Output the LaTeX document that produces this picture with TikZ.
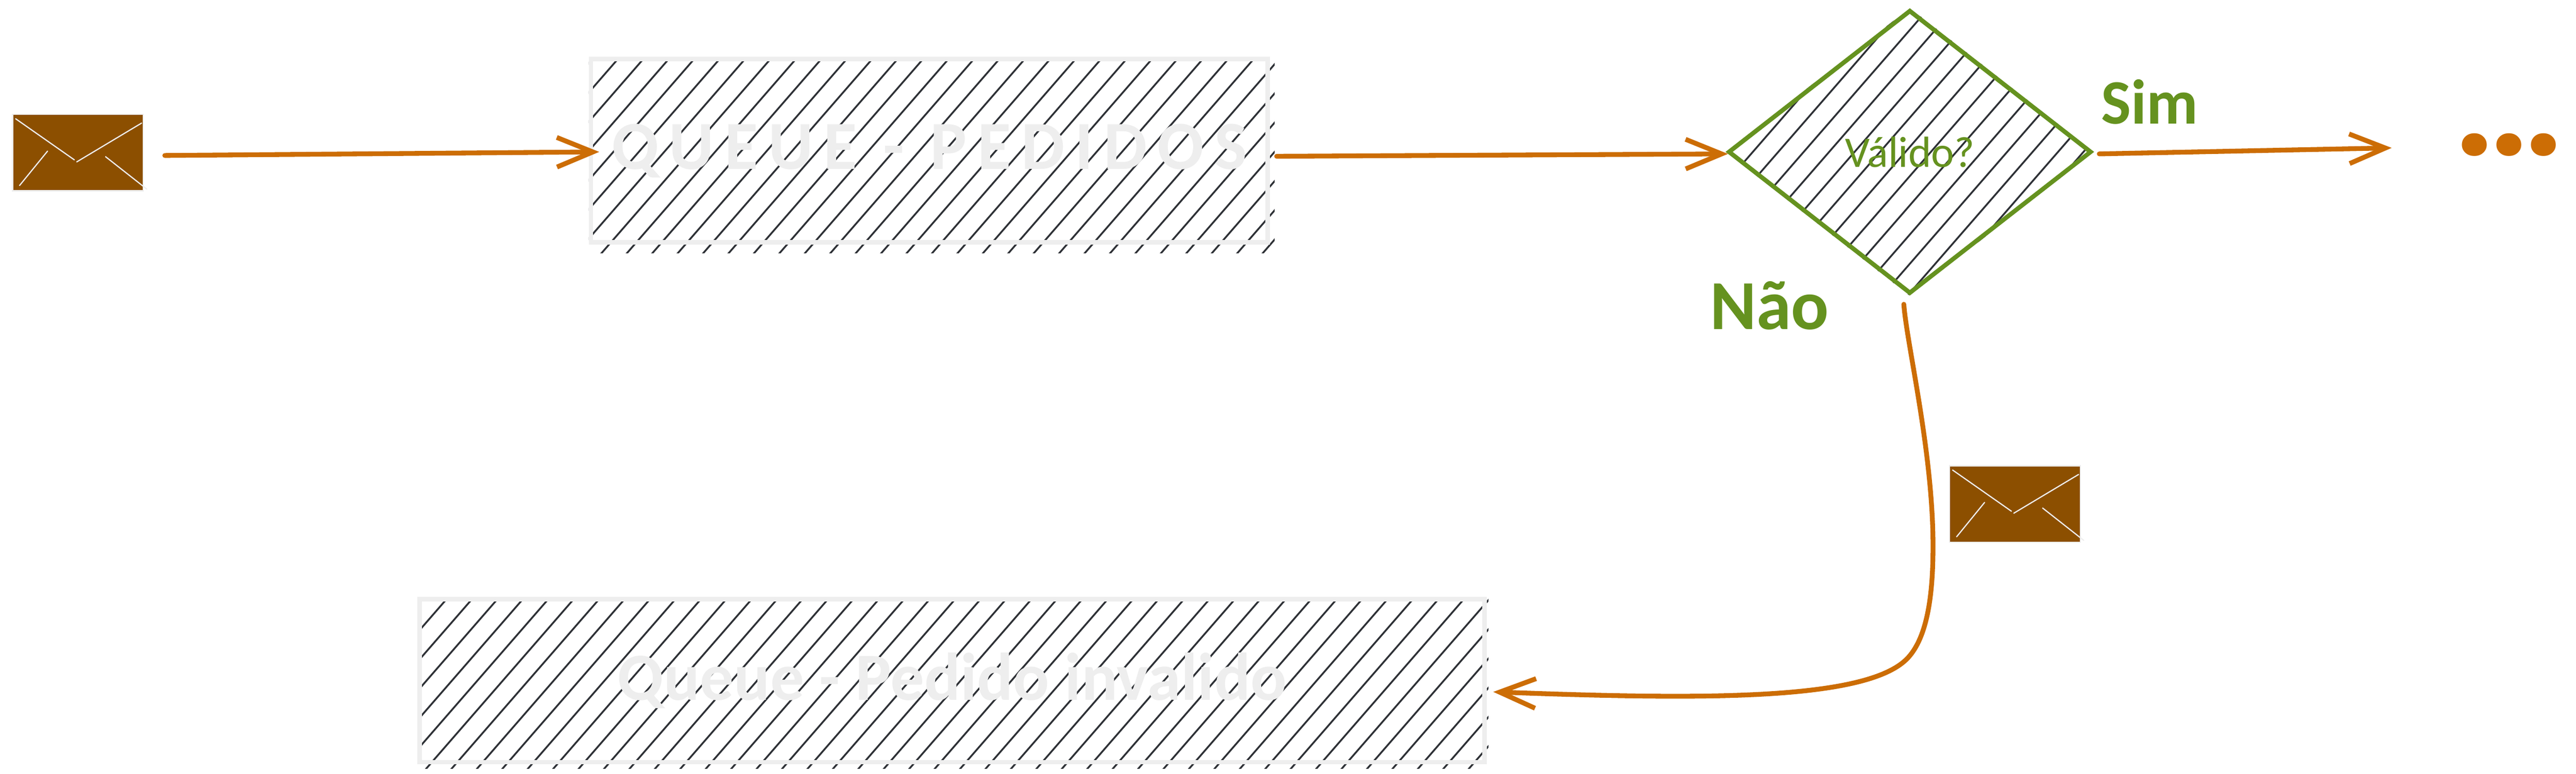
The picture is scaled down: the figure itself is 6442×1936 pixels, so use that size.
\documentclass[tikz,border=0pt]{standalone}
\usepackage{fontspec}
\usetikzlibrary{arrows.meta,backgrounds,shapes.geometric}
\setmainfont{Carlito}
\newfontfamily\widefont[LetterSpace=15]{Carlito}
\newfontfamily\dotfont{Poppins}
\definecolor{flowc}{HTML}{CC6D05}
\definecolor{greenc}{HTML}{65921F}
\definecolor{palec}{HTML}{EEEEEE}
\definecolor{hatchc}{HTML}{2E3136}
\definecolor{mailc}{HTML}{8C4F00}
\newcommand{\hatchlines}[2]{%
  \foreach \i in {0,...,#2}
    \draw[hatchline] ({#1+63.6*\i},0) -- ({#1+63.6*\i-1684},1936);
}

\begin{document}
\begin{tikzpicture}[x=0.01cm,y=-0.01cm,
  queue/.style = {draw=palec, line width=0.11cm, inner sep=0, text=palec},
  mail/.style = {draw=palec, fill=mailc, line width=0.03cm, inner sep=0, minimum width=3.27cm, minimum height=1.91cm},
  mailline/.style = {draw=palec, line width=0.03cm, line cap=round},
  hatchline/.style = {draw=hatchc, line width=0.045cm},
  flow/.style = {draw=flowc, line width=0.12cm, line cap=round, line join=round, -{Straight Barb[length=0.9cm,width=0.74cm]}},
  label/.style = {text=greenc, inner sep=0}]
\useasboundingbox (0,0) rectangle (6442,1936);

\node[queue, minimum width=16.91cm, minimum height=4.58cm, font=\widefont\bfseries\fontsize{49}{49}\selectfont] (pedidos) at (2324,377) {QUEUE - PEDIDOS};
\node[queue, minimum width=26.62cm, minimum height=4.07cm, font=\bfseries\fontsize{48}{48}\selectfont] (invalido) at (2381,1703) {Queue - Pedido invalido};
\node[diamond, draw=greenc, line width=0.11cm, inner sep=0, aspect=1.28, minimum width=9.08cm, minimum height=7.09cm, text=greenc, font=\fontsize{31}{31}\selectfont] (valido) at (4776,380) {Válido?};
\node[mail] (mailin) at (195,382) {};
\node[mail] (mailout) at (5039,1261) {};
\node[label, font=\bfseries\fontsize{45}{45}\selectfont] (sim) at (5376,255) {Sim};
\node[label, font=\bfseries\fontsize{50}{50}\selectfont] (nao) at (4425,765) {Não};
\node[text=flowc, inner sep=0, font=\dotfont\bfseries\fontsize{87}{87}\selectfont] (more) at (6275,363) {...};

% hatching behind the boxes
\begin{pgfonlayer}{background}
\begin{scope}
  \clip (pedidos.north west) rectangle ([shift={(12,22)}]pedidos.south east);
  \hatchlines{1610}{34}
\end{scope}
\begin{scope}
  \clip (invalido.north west) rectangle ([shift={(4,11)}]invalido.south east);
  \hatchlines{2357}{48}
\end{scope}
\begin{scope}
  \clip (valido.north) -- (valido.east) -- (valido.south) -- (valido.west) -- cycle;
  \hatchlines{4714}{13}
\end{scope}
\end{pgfonlayer}

% envelope folds
\foreach \m in {mailin,mailout} {
  \draw[mailline] ([shift={(-156,-85)}]\m.center) -- ([shift={(-9,18)}]\m.center);
  \draw[mailline] ([shift={(-3,23)}]\m.center) -- ([shift={(159,-74)}]\m.center);
  \draw[mailline] ([shift={(-146,82)}]\m.center) -- ([shift={(-76,-4)}]\m.center);
  \draw[mailline] ([shift={(69,10)}]\m.center) -- ([shift={(172,91)}]\m.center);
}

\coordinate (nextstep) at (5981,370);
\draw[flow] ([shift={(52,7)}]mailin.east) -- ([shift={(26,3)}]pedidos.west);
\draw[flow] ([shift={(17,14)}]pedidos.east) -- ([shift={(5,5)}]valido.west);
\draw[flow] ([shift={(14,5)}]valido.east) -- (nextstep);
\draw[flow] ([shift={(-15,21)}]valido.south) .. controls (4768,860) and (4834,1130) .. (4834,1366)
  .. controls (4834,1480) and (4822,1590) .. (4772,1645)
  .. controls (4672,1755) and (4250,1750) .. ([shift={(16,28)}]invalido.east);
\end{tikzpicture}
\end{document}
